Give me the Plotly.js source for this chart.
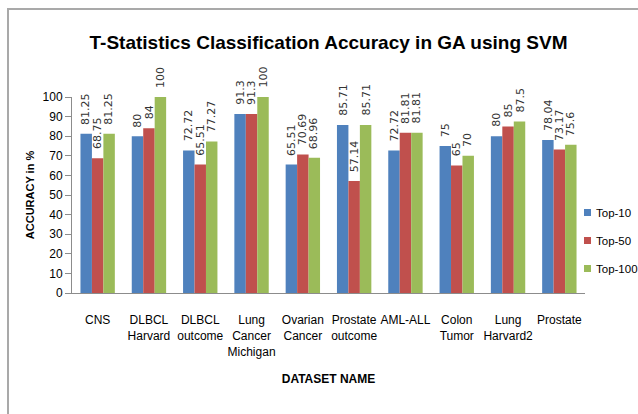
<!DOCTYPE html>
<html>
<head>
<meta charset="utf-8">
<script src="https://cdn.plot.ly/plotly-3.0.1.min.js"></script>
<style>
  html, body { margin: 0; padding: 0; background: #fff; overflow: hidden; }
  #chart { width: 638px; height: 414px; }
  #frame { position: absolute; left: 7px; top: 8px; width: 700px; height: 500px;
           border-top: 2px solid #a9a9a9; border-left: 2px solid #a9a9a9; pointer-events: none; }
</style>
</head>
<body>
<div id="chart"></div>
<div id="frame"></div>
<script>
const categories = ["CNS", "DLBCL<br>Harvard", "DLBCL<br>outcome", "Lung<br>Cancer<br>Michigan",
  "Ovarian<br>Cancer", "Prostate<br>outcome", "AML-ALL", "Colon<br>Tumor", "Lung<br>Harvard2", "Prostate"];
const top10  = [81.25, 80, 72.72, 91.3, 65.51, 85.71, 72.72, 75, 80, 78.04];
const top50  = [68.75, 84, 65.51, 91.3, 70.69, 57.14, 81.81, 65, 85, 73.17];
const top100 = [81.25, 100, 77.27, 100, 68.96, 85.71, 81.81, 70, 87.5, 75.6];
const seriesNames = ["Top-10", "Top-50", "Top-100"];
const colors = ["#4F81BD", "#C0504D", "#9BBB59"];

const sans = "Liberation Sans, Arial, sans-serif";
const labelFont = { family: "DejaVu Sans, Verdana, sans-serif", size: 11, color: "#333333" };
const tickFont = { family: sans, size: 12, color: "#000" };

const W = 638, H = 414;
const margin = { l: 72, r: 53, t: 97, b: 121, autoexpand: false };
const plotW = W - margin.l - margin.r, plotH = H - margin.t - margin.b;
const bargap = 0.33;
const catWidthPx = plotW / categories.length;
const barWidthPx = catWidthPx * (1 - bargap) / 3;

const allSeries = [top10, top50, top100];
const traces = allSeries.map((vals, i) => ({
  type: "bar",
  name: seriesNames[i],
  x: categories,
  y: vals,
  marker: { color: colors[i] },
  showlegend: false,
  hoverinfo: "x+y"
}));

const annotations = [];
allSeries.forEach((vals, i) => {
  vals.forEach((v, j) => {
    annotations.push({
      x: categories[j], y: v, xref: "x", yref: "y",
      text: String(v), textangle: -90, showarrow: false,
      xanchor: "center", yanchor: "bottom",
      xshift: (i - 1) * barWidthPx, yshift: 7,
      font: labelFont
    });
  });
});

// Legend (drawn as paper-positioned swatches + text)
const px2x = px => (px - margin.l) / plotW;
const px2y = py => (H - margin.b - py) / plotH;
const shapes = [];
seriesNames.forEach((name, i) => {
  const yc = 212.5 + 28 * i;
  shapes.push({
    type: "rect", xref: "paper", yref: "paper",
    x0: px2x(584), x1: px2x(591), y0: px2y(yc + 3.5), y1: px2y(yc - 3.5),
    fillcolor: colors[i], line: { width: 0 }
  });
  annotations.push({
    xref: "paper", yref: "paper", x: px2x(594), y: px2y(yc),
    xanchor: "left", yanchor: "middle", showarrow: false,
    text: name, font: { family: sans, size: 11.5, color: "#000" }
  });
});

const layout = {
  width: W, height: H,
  margin: margin,
  paper_bgcolor: "#fff", plot_bgcolor: "#fff",
  barmode: "group",
  bargap: bargap, bargroupgap: 0,
  showlegend: false,
  annotations: annotations,
  shapes: shapes,
  title: {
    text: "<b>T-Statistics Classification Accuracy in GA using SVM</b>",
    font: { family: sans, size: 19, color: "#000" },
    x: 0.5, xref: "paper", xanchor: "center",
    y: 1 - 42 / 414, yref: "container", yanchor: "middle"
  },
  xaxis: {
    showline: true, linecolor: "#8c8c8c", linewidth: 1,
    ticks: "", tickfont: tickFont, tickangle: 0, showgrid: false, zeroline: false,
    ticklabelstandoff: 16,
    automargin: false,
    title: { text: "<b>DATASET NAME</b>", font: { family: sans, size: 12, color: "#000" }, standoff: 17 }
  },
  yaxis: {
    range: [0, 100], dtick: 10, tick0: 0,
    showline: true, linecolor: "#8c8c8c", linewidth: 1,
    ticks: "outside", ticklen: 6, tickcolor: "#8c8c8c",
    tickfont: tickFont, showgrid: false, zeroline: false,
    automargin: false,
    title: { text: "<b>ACCURACY in %</b>", font: { family: sans, size: 11, color: "#000" }, standoff: 5 }
  }
};

Plotly.newPlot("chart", traces, layout, { displayModeBar: false, staticPlot: true });
</script>
</body>
</html>
